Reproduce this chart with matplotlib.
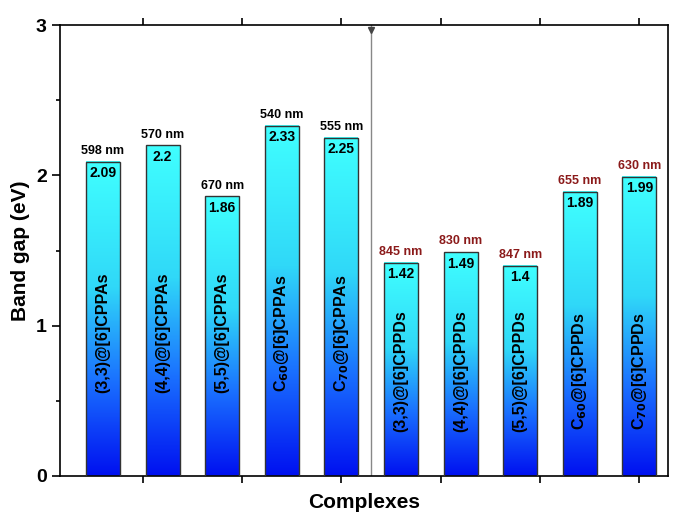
import matplotlib
matplotlib.use('Agg')
import matplotlib.pyplot as plt
import numpy as np
from matplotlib.colors import LinearSegmentedColormap

labels = ["(3,3)@[6]CPPAs", "(4,4)@[6]CPPAs", "(5,5)@[6]CPPAs",
          r"C$_{60}$@[6]CPPAs", r"C$_{70}$@[6]CPPAs",
          "(3,3)@[6]CPPDs", "(4,4)@[6]CPPDs", "(5,5)@[6]CPPDs",
          r"C$_{60}$@[6]CPPDs", r"C$_{70}$@[6]CPPDs"]
gaps = [2.09, 2.2, 1.86, 2.33, 2.25, 1.42, 1.49, 1.4, 1.89, 1.99]
gap_text = ["2.09", "2.2", "1.86", "2.33", "2.25", "1.42", "1.49", "1.4", "1.89", "1.99"]
wavelengths = ["598 nm", "570 nm", "670 nm", "540 nm", "555 nm",
               "845 nm", "830 nm", "847 nm", "655 nm", "630 nm"]

plt.rcParams['font.family'] = 'Liberation Sans'
plt.rcParams['font.weight'] = 'bold'

fig = plt.figure(figsize=(6.85, 5.21), dpi=100)
ax = fig.add_axes([60/685, 45/521, 608/685, 451/521])

cmap = LinearSegmentedColormap.from_list(
    'bc', [(0, '#0010f0'), (0.3, '#1a70ff'), (0.6, '#30d8f8'), (1, '#40ffff')])
w = 0.57
xs = np.arange(len(gaps))
for i, (x, g) in enumerate(zip(xs, gaps)):
    grad = np.linspace(0, 1, 256).reshape(-1, 1)
    ax.imshow(grad, extent=(x - w/2, x + w/2, 0, g), origin='lower',
              cmap=cmap, aspect='auto', zorder=2)
    ax.bar(x, g, width=w, fill=False, edgecolor='#333333', lw=1, zorder=3)
    ax.text(x, g - 0.03, gap_text[i], ha='center', va='top', fontsize=10,
            fontweight='bold', zorder=4)
    ax.text(x, g + 0.03, wavelengths[i], ha='center', va='bottom', fontsize=9,
            fontweight='bold', color='black' if i < 5 else '#8b1a1a', zorder=4)
    ax.text(x, 0.95 if i < 5 else 0.7, labels[i], rotation=90, ha='center', va='center',
            fontsize=11.5, fontweight='bold', zorder=4)

ax.axvline(4.5, color='#888888', lw=1, zorder=1)
ax.plot(4.5, 2.97, marker='v', color='#444444', ms=5, zorder=5)

ax.set_xlim(-0.72, 9.48)
ax.set_ylim(0, 3)
ax.set_xticks([0.67, 2.34, 4.0, 5.67, 7.34, 9.0])
ax.set_xticklabels([])
ax.set_yticks([0, 1, 2, 3])
ax.set_yticks([0.5, 1.5, 2.5], minor=True)
ax.tick_params(axis='both', which='both', direction='out', width=1.2)
ax.tick_params(axis='x', top=True, length=5)
ax.tick_params(axis='y', which='major', length=6, labelsize=14)
ax.tick_params(axis='y', which='minor', length=3)
for s in ax.spines.values():
    s.set_linewidth(1.2)
ax.set_xlabel("Complexes", fontsize=15, fontweight='bold', labelpad=4)
ax.set_ylabel("Band gap (eV)", fontsize=15, fontweight='bold')

fig.savefig("out.png", dpi=100)
